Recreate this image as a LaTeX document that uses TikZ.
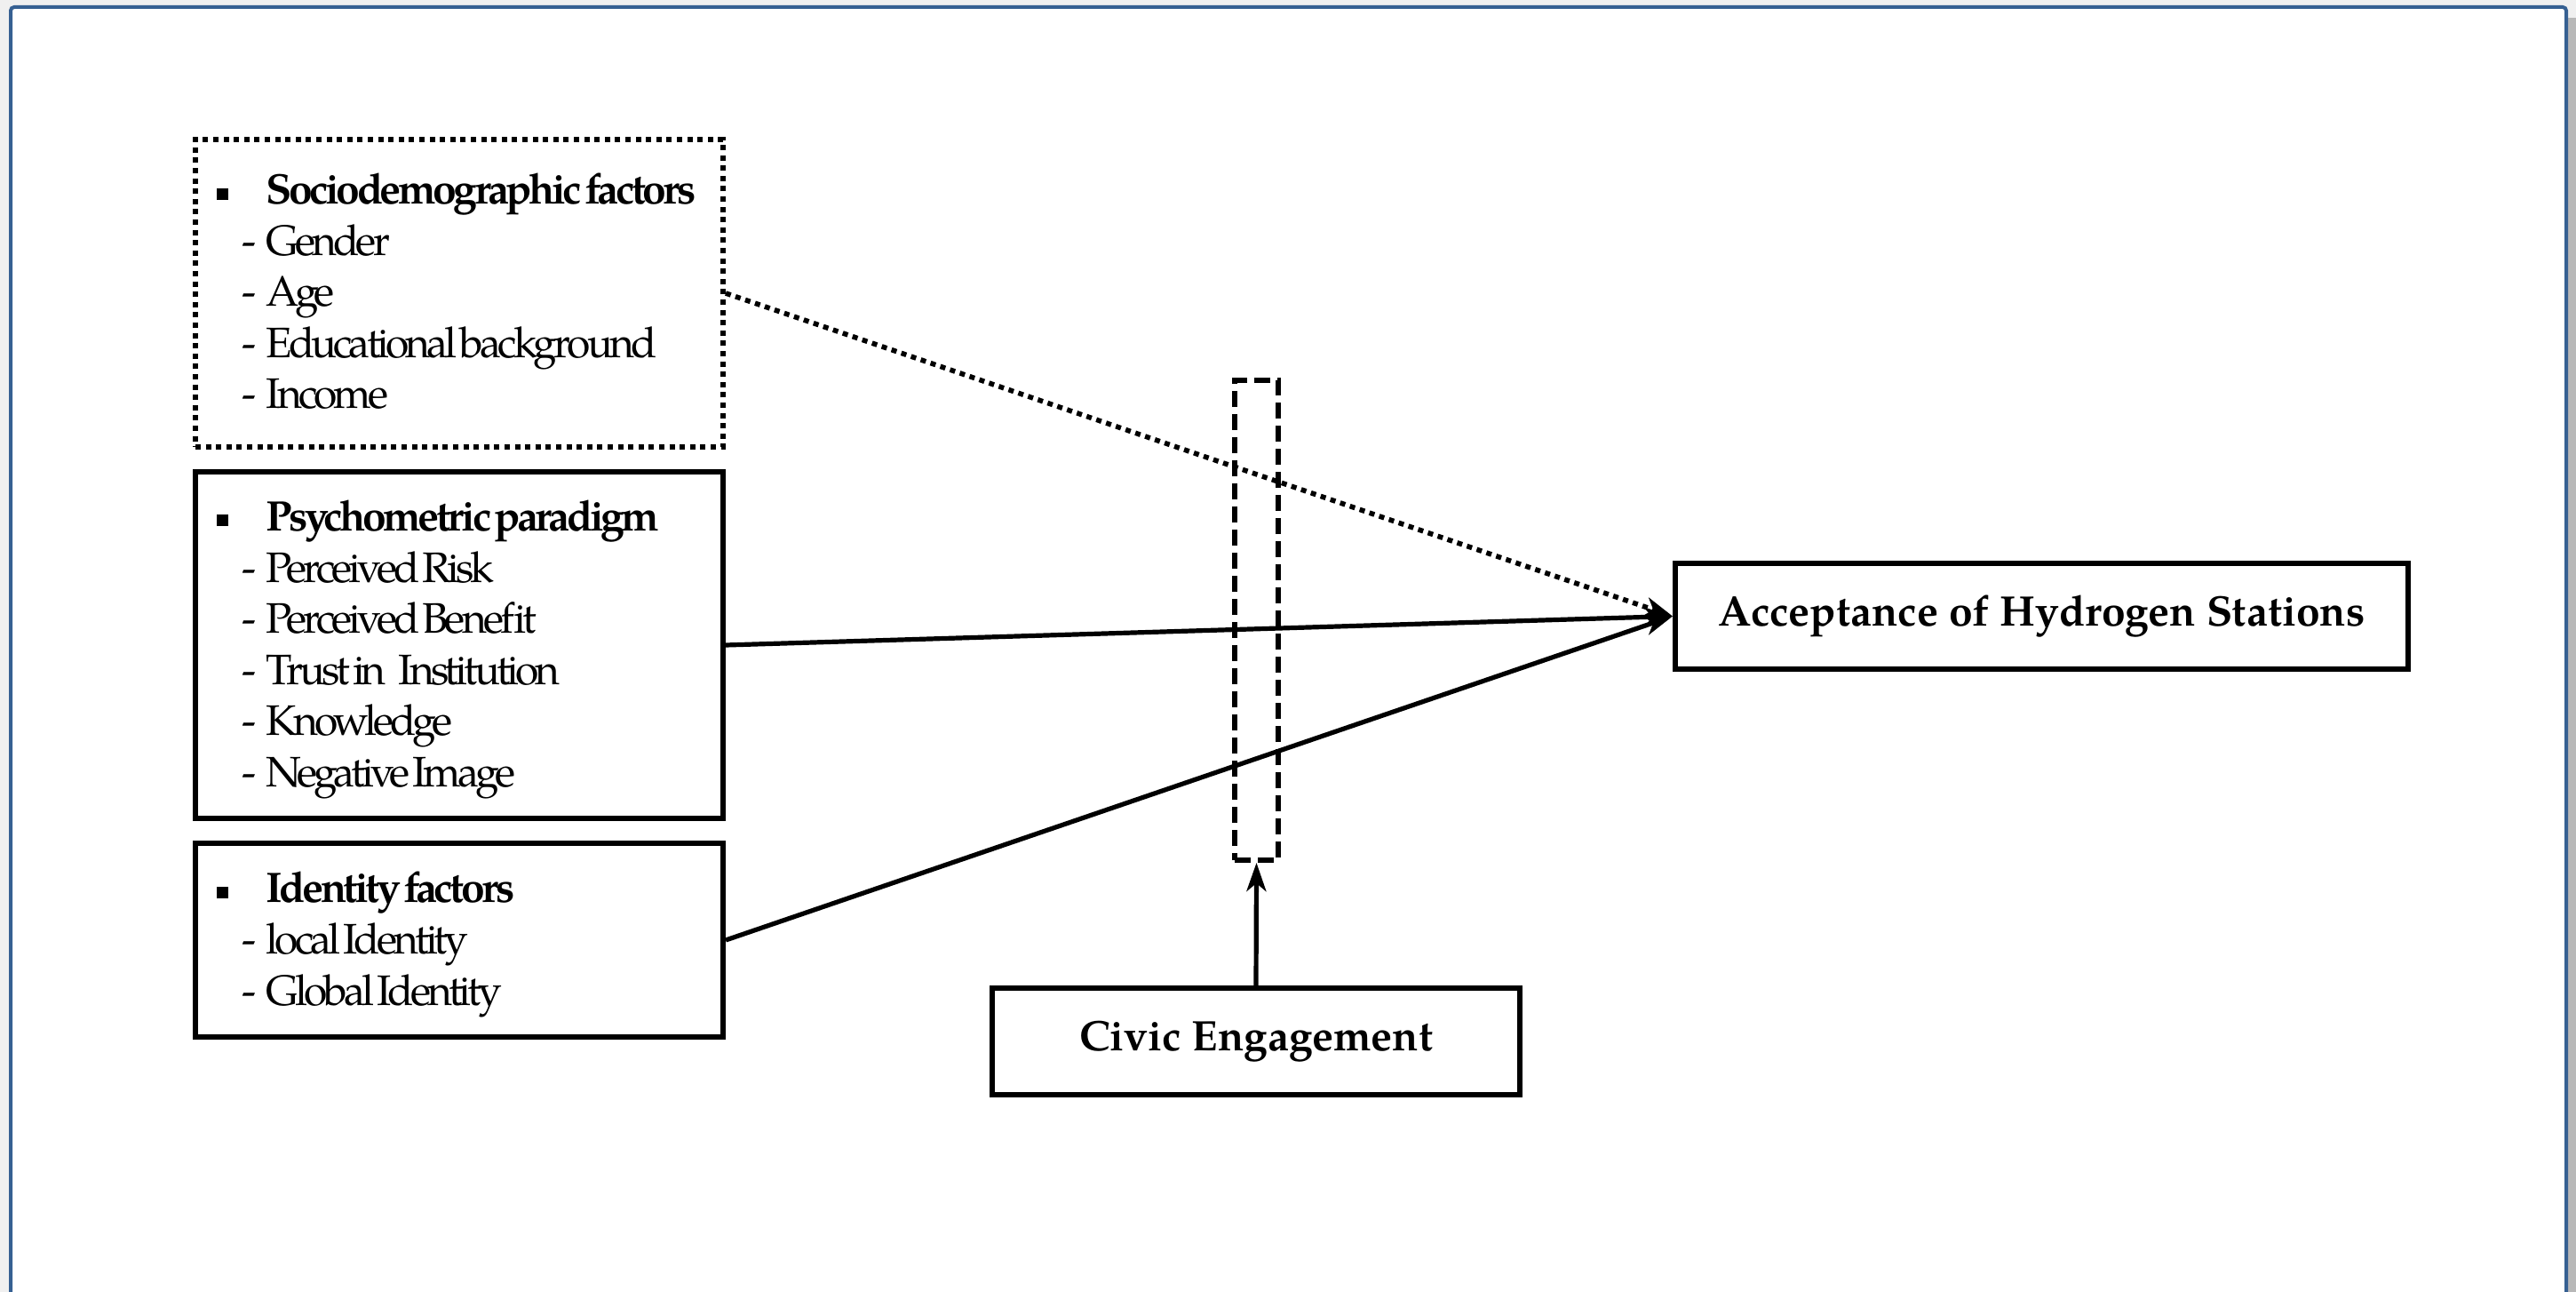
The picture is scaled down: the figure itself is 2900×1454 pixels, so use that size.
\documentclass[tikz,border=0pt]{standalone}
\usepackage{fontspec}
\setmainfont{texgyrepagella}[Extension=.otf,UprightFont=*-regular,BoldFont=*-bold,ItalicFont=*-italic,BoldItalicFont=*-bolditalic]
\newfontfamily\tightfont{texgyrepagella}[Extension=.otf,UprightFont=*-regular,BoldFont=*-bold,ItalicFont=*-italic,BoldItalicFont=*-bolditalic,LetterSpace=-8.2,WordSpace=0.38,BoldFeatures={LetterSpace=-7.4}]
\usetikzlibrary{arrows.meta}
\definecolor{frameblue}{RGB}{54,96,146}
\definecolor{outergray}{RGB}{240,240,240}
\definecolor{shadowgray}{RGB}{184,184,184}
\newcommand\hdline[1]{\makebox[30.5pt][l]{\hspace{2.5pt}\raisebox{2.5pt}{\rule{6.5pt}{6.5pt}}}\textbf{#1}}
\newcommand\liline[1]{\makebox[30.5pt][l]{\hspace{17pt}-}#1}
\begin{document}
\begin{tikzpicture}[x=0.5pt,y=-0.5pt,
  boxstyle/.style={draw, line width=3pt, rectangle, inner sep=0pt},
  listbox/.style={boxstyle, minimum width=297pt},
  listtext/.style={anchor=west, inner sep=0pt, align=left, xshift=10.7pt, yshift=-2.5pt,
    font=\tightfont\fontsize{24}{28.8}\selectfont},
  titlebox/.style={boxstyle, font=\fontsize{24}{28}\selectfont\bfseries},
  dotline/.style={dash pattern=on 3pt off 2.8pt},
  conn/.style={line width=2.6pt, -{Stealth[length=16pt,width=11pt,inset=4.5pt]}},
  modbox/.style={draw, line width=3pt, dash pattern=on 9pt off 4pt, rectangle, inner sep=0pt,
    minimum width=24.5pt, minimum height=270pt}]
\useasboundingbox (0,0) rectangle (2900,1454);
\fill[outergray] (0,0) rectangle (2900,1454);
\fill[shadowgray] (2891,20) rectangle (2900,1454);
\fill[white] (12,8) rectangle (2889,1454);
\draw[frameblue, line width=2pt, rounded corners=2pt] (12,1454) -- (12,8) -- (2889,8) -- (2889,1454);

\node[listbox, dotline, line width=3pt, minimum height=173pt] (soc) at (517,330) {};
\node[listtext, yshift=3.5pt] (soctext) at (soc.west) {%
  \hdline{Sociodemographic factors}\\
  \liline{Gender}\\
  \liline{Age}\\
  \liline{Educational background}\\
  \liline{Income}};
\node[listbox, minimum height=195pt] (psy) at (517,726) {};
\node[listtext] (psytext) at (psy.west) {%
  \hdline{Psychometric paradigm}\\
  \liline{Perceived Risk}\\
  \liline{Perceived Benefit}\\
  \liline{Trust in\hspace{7pt}Institution}\\
  \liline{Knowledge}\\
  \liline{Negative Image}};
\node[listbox, minimum height=109pt] (ide) at (517,1058) {};
\node[listtext] (idetext) at (ide.west) {%
  \hdline{Identity factors}\\
  \liline{local Identity}\\
  \liline{Global Identity}};

\node[titlebox, minimum width=412.5pt, minimum height=59.5pt] (acc) at (2298.5,693.5) {Acceptance of Hydrogen Stations};
\node[titlebox, minimum width=297pt, minimum height=60pt] (civ) at (1414,1172) {Civic Engagement};
\node[modbox] (mod) at (1414.5,698) {};

\draw[conn, dotline, line width=2.8pt] (soc.east) -- (acc.west);
\draw[conn] (psy.east) -- (acc.west);
\draw[conn] (ide.east) -- (acc.west);
\draw[conn] (civ.north) -- (mod.south);
\end{tikzpicture}
\end{document}
